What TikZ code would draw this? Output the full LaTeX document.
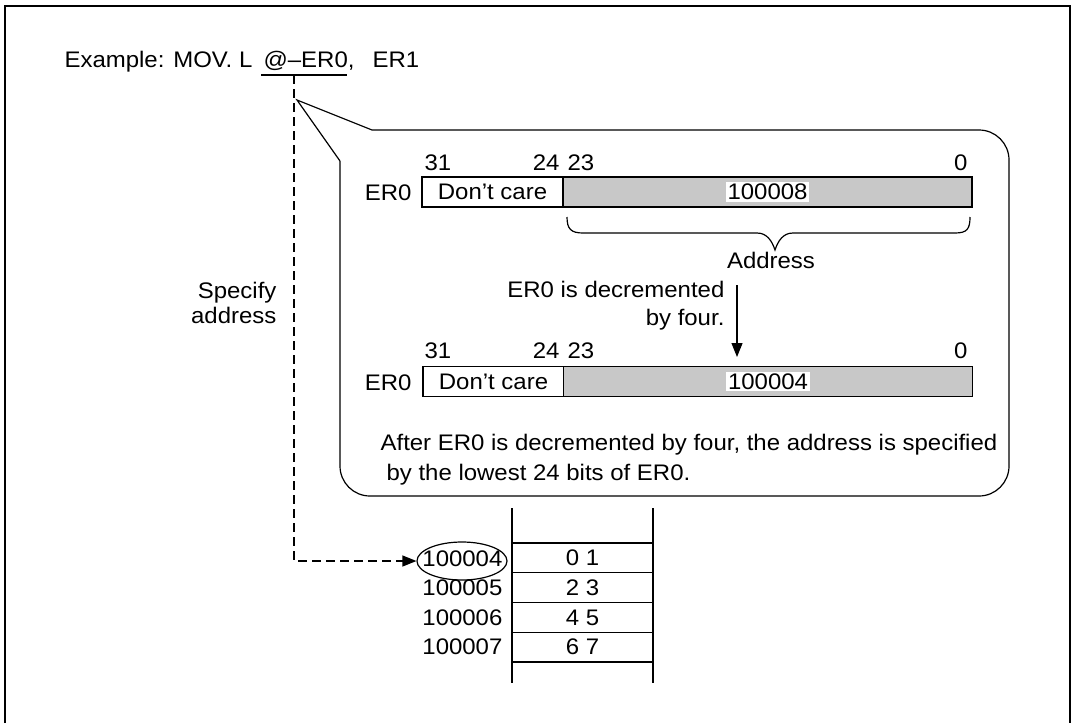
\documentclass[tikz,border=0pt]{standalone}
\usepackage{fontspec}
\setmainfont{Liberation Sans}[FakeStretch=1.065]
\usetikzlibrary{arrows.meta,shapes.geometric}
\definecolor{regray}{RGB}{200,200,200}
\newcommand{\apos}{\char39}

\begin{document}
\begin{tikzpicture}[x=1pt,y=-1pt,line width=1.2pt,
  txt/.style={inner sep=0pt,font=\fontsize{22.5}{26}\selectfont},
  dcbox/.style={txt,draw,fill=white,minimum width=141pt,minimum height=30pt},
  adbox/.style={txt,draw,fill=regray,minimum width=409pt,minimum height=30pt},
  valbox/.style={txt,fill=white,inner xsep=2pt,inner ysep=2pt},
  cell/.style={txt,draw,minimum width=141pt,minimum height=29.75pt},
  tri/.style={-{Triangle[length=14pt,width=11pt]}},
  dashline/.style={dash pattern=on 9pt off 5pt}]

\useasboundingbox (0,0) rectangle (1075,723);

% outer frame
\draw[line width=1.8pt] (5,723) -- (5,6) -- (1070,6) -- (1070,723);

% instruction line
\node[txt,anchor=base west] (ex) at (64,67) {Example: MOV. L};
\node[txt,anchor=base west] (op) at (263,67) {@--ER0,};
\node[txt,anchor=base west] (er1) at (372,67) {ER1};
\draw (261,75) -- (347,75);
\coordinate (dtop) at (294,75);

% speech bubble
\coordinate (tip) at (297,100);
\draw[rounded corners=30pt] (372,130) -- (1009,130) -- (1009,496) -- (340,496) -- (340,161);
\draw (372,130) -- (tip) -- (340,161);

% register before
\node[txt,anchor=base west] (b31a) at (424,170) {31};
\node[txt,anchor=base east] (b24a) at (560,170) {24};
\node[txt,anchor=base west] (b23a) at (567,170) {23};
\node[txt,anchor=base east] (b0a)  at (968,170) {0};
\node[dcbox] (dcA) at (492.5,192) {Don\apos t care};
\node[adbox] (adA) at (767.5,192) {};
\node[valbox] (vA) at (adA) {100008};
\node[txt,anchor=base east] (rA) at (412,200) {ER0};

% brace over the address bits
\draw (567,217) .. controls (567,229) and (571,233) .. (583,233)
  -- (757,233) .. controls (767,233) and (772,241) .. (775,250)
  .. controls (778,241) and (783,233) .. (793,233)
  -- (955,233) .. controls (967,233) and (970,229) .. (970,217);
\node[txt,anchor=base] (addr) at (771,268) {Address};

% decrement step
\node[txt,anchor=base east] (dec1) at (725,297) {ER0 is decremented};
\node[txt,anchor=base east] (dec2) at (725,325) {by four.};
\coordinate (dsrc) at (737,285);
\coordinate (ddst) at (737,357);
\draw[tri] (dsrc) -- (ddst);

% register after
\node[txt,anchor=base west] (b31b) at (424,358) {31};
\node[txt,anchor=base east] (b24b) at (560,358) {24};
\node[txt,anchor=base west] (b23b) at (567,358) {23};
\node[txt,anchor=base east] (b0b)  at (968,358) {0};
\node[dcbox] (dcB) at (493.5,381.5) {Don\apos t care};
\node[adbox] (adB) at (768,381.5) {};
\node[valbox] (vB) at (adB) {100004};
\node[txt,anchor=base east] (rB) at (412,390) {ER0};

% explanation
\node[txt,anchor=base west] (ex1) at (380,450) {After ER0 is decremented by four, the address is specified};
\node[txt,anchor=base west] (ex2) at (386,480) {by the lowest 24 bits of ER0.};

% side label
\node[txt,anchor=base east] (sp1) at (277,298) {Specify};
\node[txt,anchor=base east] (sp2) at (277,323) {address};

% memory
\draw (512,508) -- (512,683);
\draw (653,508) -- (653,683);
\node[cell] (m1) at (582.5,557.875) {0 1};
\node[cell] (m2) at (582.5,587.625) {2 3};
\node[cell] (m3) at (582.5,617.375) {4 5};
\node[cell] (m4) at (582.5,647.125) {6 7};
\node[txt,anchor=east] (a4) at (503,558.5) {100004};
\node[txt,anchor=east] (a5) at (503,587.6) {100005};
\node[txt,anchor=east] (a6) at (503,617.4) {100006};
\node[txt,anchor=east] (a7) at (503,647.1) {100007};
\node[draw,ellipse,inner sep=0pt,minimum width=90pt,minimum height=38pt] (a4ring) at (462,561) {};

% address pointer
\draw[dashline,tri] (dtop) |- (a4ring.west);
\end{tikzpicture}
\end{document}
